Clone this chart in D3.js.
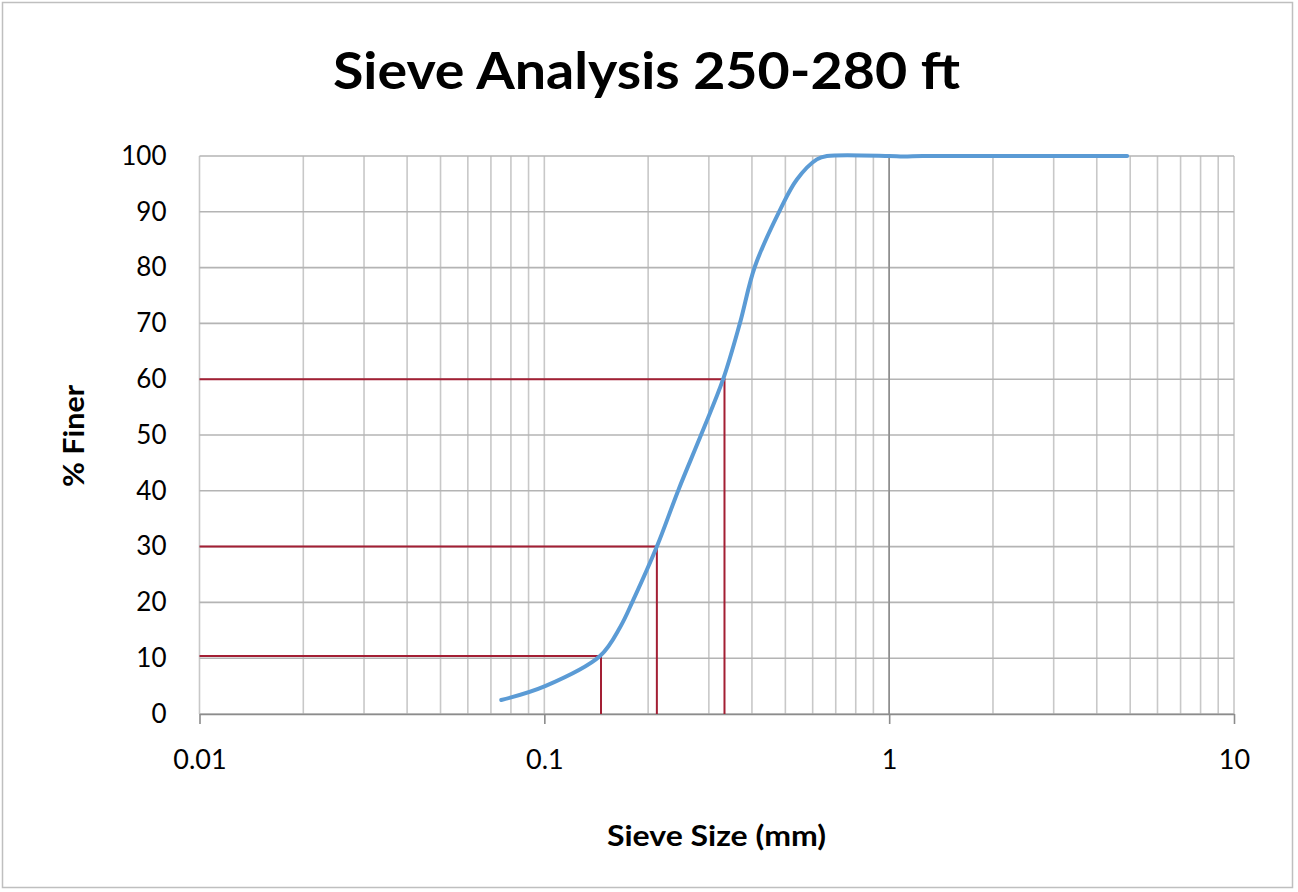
<!DOCTYPE html>
<html>
<head>
<meta charset="utf-8">
<script src="https://cdn.jsdelivr.net/npm/d3@7"></script>
<style>
  body { margin: 0; background: #fff; }
  text { font-family: Lato, "Open Sans", sans-serif; fill: #000; }
</style>
</head>
<body>
<div id="chart"></div>
<script>
// values
var sizeMm = [0.075, 0.1005, 0.145, 0.166, 0.181, 0.212, 0.245, 0.286, 0.33, 0.369, 0.408, 0.483, 0.54, 0.617, 0.66, 1.0, 1.1, 1.25, 2.0, 4.9];
var finer  = [2.5, 5.0, 10.4, 15.6, 20.4, 30, 40.2, 50.3, 60, 70, 80.2, 90.4, 95.8, 99.4, 100, 100, 99.9, 100, 100, 100];

// D10 / D30 / D60 guide lines
var guideSize  = [0.146, 0.212, 0.333];
var guideFiner = [10.4, 30, 60];

var xTicks = [0.01, 0.1, 1, 10];
var xTickLabels = ["0.01", "0.1", "1", "10"];
var yTicks = [0, 10, 20, 30, 40, 50, 60, 70, 80, 90, 100];

var W = 1298, H = 892;
var plot = { left: 199.5, right: 1234, top: 156, bottom: 714 };

var svg = d3.select("#chart").append("svg")
            .attr("width", W)
            .attr("height", H);

// outer frame
svg.append("rect").attr("x", 2.5).attr("y", 2.5)
   .attr("width", W - 8).attr("height", H - 7)
   .attr("fill", "#fff").attr("stroke", "#bfbfbf").attr("stroke-width", 1.5);

var x = d3.scaleLog().domain([0.01, 10]).range([plot.left, plot.right]);
var y = d3.scaleLinear().domain([0, 100]).range([plot.bottom, plot.top]);

// minor vertical gridlines (2..9 of every decade)
var minor = [];
[0.01, 0.1, 1].forEach(function(d) {
  for (var k = 2; k <= 9; k++) minor.push(d * k);
});

svg.append("g").selectAll("line")
   .data(minor.concat(xTicks))
   .enter().append("line")
   .attr("x1", function(d) { return x(d); })
   .attr("x2", function(d) { return x(d); })
   .attr("y1", plot.top).attr("y2", plot.bottom)
   .attr("stroke", "#c8c8c8").attr("stroke-width", 1.6);

// horizontal gridlines
svg.append("g").selectAll("line")
   .data(yTicks)
   .enter().append("line")
   .attr("x1", plot.left).attr("x2", plot.right)
   .attr("y1", function(d) { return y(d); })
   .attr("y2", function(d) { return y(d); })
   .attr("stroke", "#b4b4b4").attr("stroke-width", 1.6);

// vertical axis crosses at 1
svg.append("line")
   .attr("x1", x(1)).attr("x2", x(1))
   .attr("y1", plot.top).attr("y2", plot.bottom)
   .attr("stroke", "#8c8c8c").attr("stroke-width", 1.6);

// bottom axis
var xAxis = d3.axisBottom(x).tickValues(xTicks)
              .tickFormat(function(d, i) { return xTickLabels[i]; })
              .tickSizeInner(10).tickSizeOuter(0).tickPadding(26);

var gx = svg.append("g")
   .attr("transform", "translate(0," + plot.bottom + ")")
   .call(xAxis);
gx.select(".domain").attr("stroke", "#8c8c8c").attr("stroke-width", 1.6);
gx.selectAll(".tick line").attr("stroke", "#8c8c8c").attr("stroke-width", 1.6);
gx.selectAll("text").attr("font-size", 27).attr("fill", "#000")
   .attr("font-family", "Lato, sans-serif");

// left labels
var yAxis = d3.axisLeft(y).tickValues(yTicks).tickSize(0).tickPadding(33);
var gy = svg.append("g")
   .attr("transform", "translate(" + plot.left + ",0)")
   .call(yAxis);
gy.select(".domain").remove();
gy.selectAll("text").attr("font-size", 26).attr("fill", "#000")
   .attr("font-family", "Lato, sans-serif");

// guide lines
var guides = svg.append("g");
guideSize.forEach(function(s, i) {
  guides.append("polyline")
    .attr("points", [[x(0.01), y(guideFiner[i])], [x(s), y(guideFiner[i])], [x(s), y(0)]].join(" "))
    .attr("fill", "none").attr("stroke", "#a31f34").attr("stroke-width", 2);
});

// gradation curve
var pts = sizeMm.map(function(s, i) { return [s, finer[i]]; });
var line = d3.line()
             .x(function(d) { return x(d[0]); })
             .y(function(d) { return y(d[1]); })
             .curve(d3.curveCatmullRom.alpha(0.5));

svg.append("path")
   .attr("d", line(pts))
   .attr("fill", "none")
   .attr("stroke", "#5b9bd5")
   .attr("stroke-width", 4)
   .attr("stroke-linecap", "round");

// titles
svg.append("text")
   .attr("x", 646.5).attr("y", 89)
   .attr("text-anchor", "middle")
   .attr("font-size", 52).attr("font-weight", "bold")
   .attr("textLength", 627).attr("lengthAdjust", "spacingAndGlyphs")
   .text("Sieve Analysis 250-280 ft");

svg.append("text")
   .attr("x", 716.5).attr("y", 846)
   .attr("text-anchor", "middle")
   .attr("font-size", 28).attr("font-weight", "bold")
   .attr("textLength", 219).attr("lengthAdjust", "spacingAndGlyphs")
   .text("Sieve Size  (mm)");

svg.append("text")
   .attr("transform", "translate(84,436) rotate(-90)")
   .attr("text-anchor", "middle")
   .attr("font-size", 28).attr("font-weight", "bold")
   .attr("textLength", 102).attr("lengthAdjust", "spacingAndGlyphs")
   .text("% Finer");
</script>
</body>
</html>
